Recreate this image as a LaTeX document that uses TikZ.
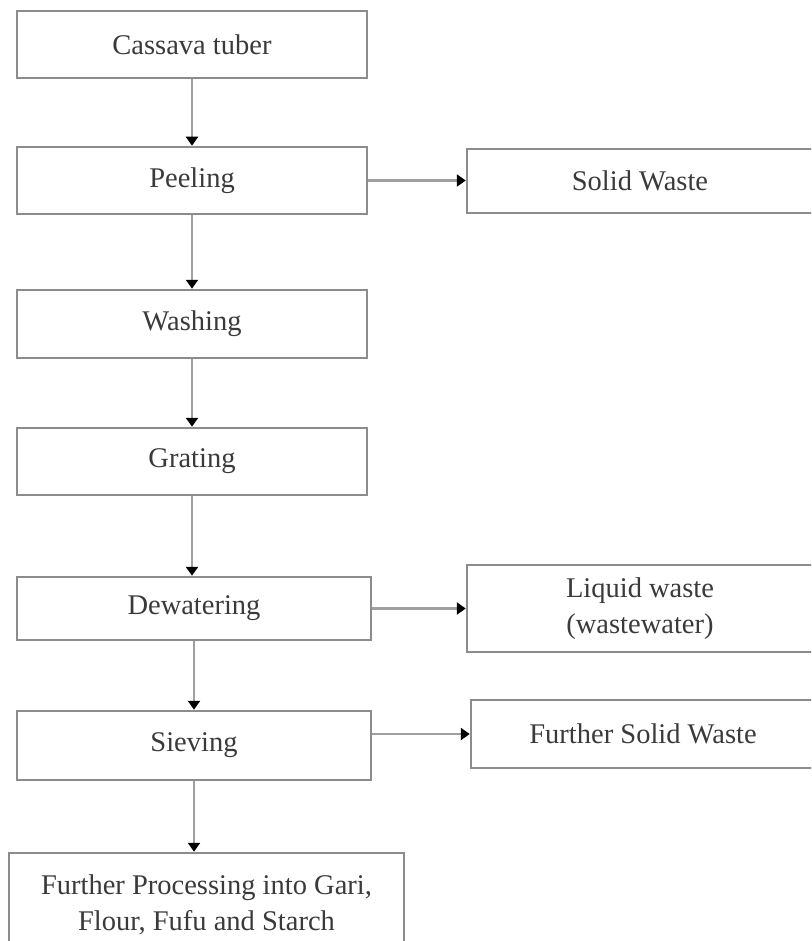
\documentclass[tikz,border=0pt]{standalone}
\usepackage{fontspec}
\setmainfont{Liberation Serif}
\usetikzlibrary{arrows.meta}
\definecolor{boxline}{HTML}{8C8C8C}
\definecolor{arrline}{HTML}{A0A0A0}
\definecolor{txt}{HTML}{3A3A3A}
\begin{document}
\begin{tikzpicture}[x=1pt,y=-1pt,
  box/.style={draw=boxline, line width=2.5pt, fill=white, text=txt,
    font=\fontsize{28.5}{36}\selectfont, align=center, inner sep=0pt},
  flow/.style={draw=arrline, line width=2.5pt,
    -{Triangle[length=9pt,width=12pt,color=black]}}]
\useasboundingbox (0,0) rectangle (811,941);
\clip (0,0) rectangle (811,941);
\fill[white] (0,0) rectangle (811,941);

\node[box, minimum width=350pt, minimum height=67pt] (cassava) at (192,44.5) {Cassava tuber};
\node[box, minimum width=350pt, minimum height=67pt] (peel) at (192,180.5) {Peeling};
\node[box, minimum width=350pt, minimum height=68pt] (wash) at (192,324) {Washing};
\node[box, minimum width=350pt, minimum height=67pt] (grate) at (192,461.5) {Grating};
\node[box, minimum width=354pt, minimum height=63pt] (dewater) at (194,608.5) {Dewatering};
\node[box, minimum width=354pt, minimum height=69pt] (sieve) at (194,745.5) {Sieving};
\node[box, minimum width=395pt, minimum height=104pt] (fp) at (206.5,905) {Further Processing into Gari,\\Flour, Fufu and Starch};

\node[box, minimum width=346pt, minimum height=64pt] (solid) at (640,181) {Solid Waste};
\node[box, minimum width=346pt, minimum height=87pt] (liquid) at (640,608.5) {Liquid waste\\(wastewater)};
\node[box, minimum width=344pt, minimum height=68pt] (fsw) at (643,734) {Further Solid Waste};

\draw[flow] (cassava) -- (peel);
\draw[flow] (peel) -- (wash);
\draw[flow] (wash) -- (grate);
\draw[flow] (grate.south) -- (grate.south |- dewater.north);
\draw[flow] (dewater) -- (sieve);
\draw[flow] (sieve.south) -- (sieve.south |- fp.north);

\draw[flow] (peel.east) -- (peel.east -| solid.west);
\draw[flow] (dewater) -- (liquid);
\draw[flow] (sieve.east |- fsw.west) -- (fsw.west);
\end{tikzpicture}
\end{document}
